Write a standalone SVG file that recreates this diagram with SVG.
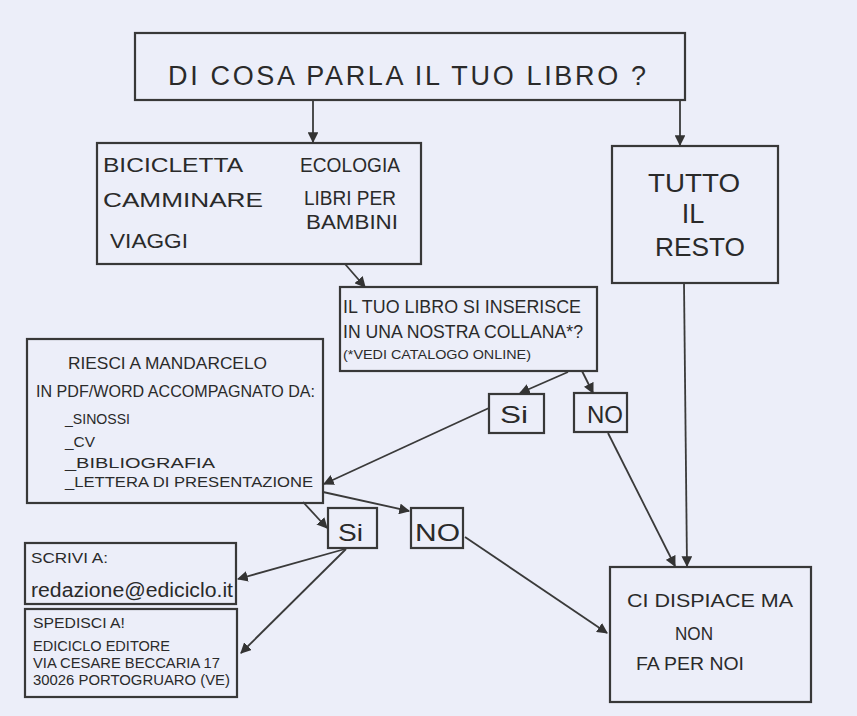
<svg xmlns="http://www.w3.org/2000/svg" width="857" height="716" viewBox="0 0 857 716">
<defs>
<marker id="ah" viewBox="0 0 10 10" refX="9" refY="5" markerWidth="6" markerHeight="6" orient="auto" markerUnits="strokeWidth">
<path d="M0,0 L10,5 L0,10 Z" fill="#333"/>
</marker>
<style>
.box{fill:none;stroke:#383838;stroke-width:2.2}
.t{font-family:"Liberation Sans",Arial,sans-serif;fill:#2a2a2a}
.c{stroke:#3a3a3a;stroke-width:1.8;fill:none;marker-end:url(#ah)}
</style>
</defs>
<rect width="857" height="716" fill="#eceef9"/>

<g id="n-question">
<rect class="box" x="135" y="33" width="550" height="67"/>
<text class="t" x="168" y="85" font-size="27" textLength="478" lengthAdjust="spacing">DI COSA PARLA IL TUO LIBRO ?</text>
</g>

<g id="n-topics">
<rect class="box" x="97" y="143" width="324" height="121"/>
<text class="t" x="103" y="172" font-size="21" textLength="140" lengthAdjust="spacingAndGlyphs">BICICLETTA</text>
<text class="t" x="300" y="172" font-size="21" textLength="100" lengthAdjust="spacingAndGlyphs">ECOLOGIA</text>
<text class="t" x="103" y="207" font-size="21" textLength="160" lengthAdjust="spacingAndGlyphs">CAMMINARE</text>
<text class="t" x="304" y="205" font-size="20" textLength="92" lengthAdjust="spacingAndGlyphs">LIBRI PER</text>
<text class="t" x="306" y="229" font-size="20" textLength="92" lengthAdjust="spacingAndGlyphs">BAMBINI</text>
<text class="t" x="110" y="248" font-size="21" textLength="78" lengthAdjust="spacingAndGlyphs">VIAGGI</text>
</g>

<g id="n-rest">
<rect class="box" x="612" y="146" width="166" height="137"/>
<text class="t" x="648" y="192" font-size="26" textLength="92" lengthAdjust="spacingAndGlyphs">TUTTO</text>
<text class="t" x="693" y="223" font-size="27" text-anchor="middle">IL</text>
<text class="t" x="655" y="256" font-size="26" textLength="90" lengthAdjust="spacingAndGlyphs">RESTO</text>
</g>

<g id="n-collana">
<rect class="box" x="340" y="287" width="257" height="84"/>
<text class="t" x="343" y="313" font-size="18" textLength="238" lengthAdjust="spacingAndGlyphs">IL TUO LIBRO SI INSERISCE</text>
<text class="t" x="343" y="338" font-size="18" textLength="240" lengthAdjust="spacingAndGlyphs">IN UNA NOSTRA COLLANA*?</text>
<text class="t" x="343" y="359" font-size="13" textLength="188" lengthAdjust="spacingAndGlyphs">(*VEDI CATALOGO ONLINE)</text>
</g>

<g id="n-si1">
<rect class="box" x="489" y="394" width="55" height="39"/>
<text class="t" x="500" y="423" font-size="24" textLength="28" lengthAdjust="spacingAndGlyphs">Si</text>
</g>
<g id="n-no1">
<rect class="box" x="574" y="393" width="53" height="39"/>
<text class="t" x="587" y="423" font-size="24" textLength="36" lengthAdjust="spacingAndGlyphs">NO</text>
</g>

<g id="n-riesci">
<rect class="box" x="27" y="339" width="296" height="164"/>
<text class="t" x="68" y="369" font-size="17" textLength="199" lengthAdjust="spacingAndGlyphs">RIESCI A MANDARCELO</text>
<text class="t" x="36" y="397" font-size="17" textLength="279" lengthAdjust="spacingAndGlyphs">IN PDF/WORD ACCOMPAGNATO DA:</text>
<text class="t" x="65" y="424" font-size="14" textLength="65" lengthAdjust="spacingAndGlyphs">_SINOSSI</text>
<text class="t" x="65" y="447" font-size="14" textLength="30" lengthAdjust="spacingAndGlyphs">_CV</text>
<text class="t" x="65" y="468" font-size="14" textLength="150" lengthAdjust="spacingAndGlyphs">_BIBLIOGRAFIA</text>
<text class="t" x="65" y="487" font-size="14" textLength="248" lengthAdjust="spacingAndGlyphs">_LETTERA DI PRESENTAZIONE</text>
</g>

<g id="n-si2">
<rect class="box" x="328" y="508" width="49" height="40"/>
<text class="t" x="338" y="541" font-size="24" textLength="25" lengthAdjust="spacingAndGlyphs">Si</text>
</g>
<g id="n-no2">
<rect class="box" x="411" y="508" width="52" height="40"/>
<text class="t" x="415" y="541" font-size="24" textLength="45" lengthAdjust="spacingAndGlyphs">NO</text>
</g>

<g id="n-scrivi">
<rect class="box" x="25" y="543" width="211" height="61"/>
<text class="t" x="31" y="563" font-size="15" textLength="77" lengthAdjust="spacingAndGlyphs">SCRIVI A:</text>
<text class="t" x="31" y="597" font-size="20" textLength="202" lengthAdjust="spacingAndGlyphs">redazione@ediciclo.it</text>
</g>

<g id="n-spedisci">
<rect class="box" x="25" y="609" width="212" height="88"/>
<text class="t" x="33" y="628" font-size="14" textLength="92" lengthAdjust="spacingAndGlyphs">SPEDISCI A!</text>
<text class="t" x="33" y="651" font-size="14" textLength="137" lengthAdjust="spacingAndGlyphs">EDICICLO EDITORE</text>
<text class="t" x="33" y="668" font-size="14" textLength="187" lengthAdjust="spacingAndGlyphs">VIA CESARE BECCARIA 17</text>
<text class="t" x="33" y="685" font-size="14" textLength="197" lengthAdjust="spacingAndGlyphs">30026 PORTOGRUARO (VE)</text>
</g>

<g id="n-sorry">
<rect class="box" x="610" y="567" width="201" height="135"/>
<text class="t" x="627" y="607" font-size="18" textLength="166" lengthAdjust="spacingAndGlyphs">CI DISPIACE MA</text>
<text class="t" x="675" y="640" font-size="18" textLength="38" lengthAdjust="spacingAndGlyphs">NON</text>
<text class="t" x="636" y="670" font-size="18" textLength="108" lengthAdjust="spacingAndGlyphs">FA PER NOI</text>
</g>

<g id="connectors">
<line class="c" x1="313" y1="100" x2="313" y2="142"/>
<line class="c" x1="680" y1="101" x2="680" y2="145"/>
<line class="c" x1="345" y1="264" x2="365" y2="287"/>
<line class="c" x1="568" y1="372" x2="520" y2="393"/>
<line class="c" x1="582" y1="371" x2="593" y2="393"/>
<line class="c" x1="489" y1="408" x2="324" y2="484"/>
<line class="c" x1="323" y1="492" x2="409" y2="511"/>
<line class="c" x1="303" y1="502" x2="327" y2="528"/>
<line class="c" x1="608" y1="433" x2="675" y2="566"/>
<line class="c" x1="684" y1="283" x2="687" y2="566"/>
<line class="c" x1="465" y1="537" x2="607" y2="633"/>
<line class="c" x1="345" y1="549" x2="238" y2="579"/>
<line class="c" x1="346" y1="549" x2="241" y2="653"/>
</g>
</svg>
